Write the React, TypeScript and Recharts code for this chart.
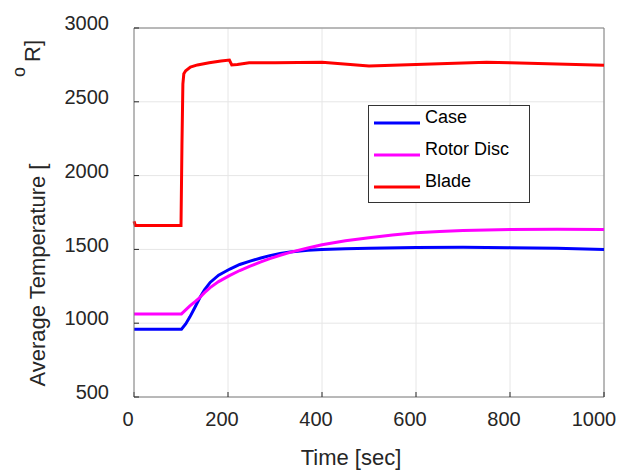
import React from "react";
import { LineChart, Line, XAxis, YAxis, CartesianGrid, Legend, ReferenceLine } from "recharts";

const caseTime = [0, 101, 110, 119, 130, 140, 150, 162, 180, 204, 225, 247, 270, 289, 311, 332, 370, 400, 450, 500, 600, 700, 800, 900, 1000];
const caseTemp = [959, 959, 995, 1043, 1110, 1172, 1226, 1276, 1325, 1367, 1398, 1421, 1442, 1458, 1472, 1482, 1494, 1500, 1505, 1508, 1513, 1514, 1512, 1507, 1500];

const discTime = [0, 101, 110, 119, 130, 140, 150, 162, 180, 204, 225, 247, 270, 289, 311, 332, 370, 400, 450, 500, 550, 600, 650, 700, 800, 900, 1000];
const discTemp = [1063, 1063, 1090, 1117, 1146, 1174, 1207, 1241, 1282, 1324, 1357, 1387, 1415, 1437, 1460, 1480, 1510, 1532, 1558, 1579, 1598, 1612, 1621, 1628, 1635, 1637, 1635];

const bladeTime = [0, 3, 100, 102, 104, 106, 110, 120, 135, 160, 185, 203, 208, 220, 245, 300, 400, 500, 600, 750, 800, 1000];
const bladeTemp = [1690, 1662, 1662, 2200, 2620, 2690, 2710, 2735, 2750, 2764, 2776, 2783, 2750, 2752, 2764, 2764, 2768, 2743, 2753, 2768, 2765, 2748];

const xTicks = [0, 200, 400, 600, 800, 1000];
const yTicks = [500, 1000, 1500, 2000, 2500, 3000];

const seriesNames = ["Case", "Rotor Disc", "Blade"];
const seriesColors = ["#0000ff", "#ff00ff", "#ff0000"];

const toRows = (t: number[], v: number[]) => t.map((x, i) => ({ t: x, v: v[i] }));

const FONT = "'Liberation Sans', Arial, Helvetica, sans-serif";
const AXIS = "#7f7f7f";
const TXT = "#262626";

const LegendBox = () => {
  return (
    <div
      style={{
        position: "absolute",
        left: 368,
        top: 105,
        width: 160,
        height: 96,
        border: "1px solid #333",
        background: "#fff",
        fontFamily: FONT,
        fontSize: 18,
        color: "#000",
        boxSizing: "content-box",
      }}
    >
      {seriesNames.map((name, i) => (
        <div key={name} style={{ position: "absolute", left: 4, top: -3 + i * 32, height: 30, display: "flex", alignItems: "center" }}>
          <svg width={48} height={30} style={{ display: "block" }}>
            <line x1={1} x2={47} y1={20} y2={20} stroke={seriesColors[i]} strokeWidth={3} />
          </svg>
          <span style={{ marginLeft: 4, lineHeight: "30px", position: "relative", top: -1 }}>{name}</span>
        </div>
      ))}
    </div>
  );
};

export default function App() {
  return (
    <div style={{ position: "absolute", left: 0, top: 0, width: 620, height: 471, background: "#fff" }}>
      <LineChart width={620} height={471} margin={{ top: 28, right: 16, bottom: 34, left: 0 }} style={{ fontFamily: FONT }}>
        <CartesianGrid stroke="#e6e6e6" strokeWidth={1} />
        <XAxis
          dataKey="t"
          type="number"
          domain={[0, 1000]}
          ticks={xTicks}
          allowDuplicatedCategory={false}
          height={40}
          stroke={AXIS}
          tickSize={-5}
          tickMargin={20}
          tickLine={{ stroke: "#262626" }}
          tick={{ fontSize: 20, fill: TXT, fontFamily: FONT, dx: -6 }}
          label={{
            content: (p: any) => {
              const vb = p.viewBox;
              return (
                <text x={vb.x + vb.width / 2 - 18} y={465} textAnchor="middle" fontSize={22} fill={TXT} fontFamily={FONT}>
                  Time [sec]
                </text>
              );
            },
          }}
        />
        <YAxis
          type="number"
          domain={[500, 3000]}
          ticks={yTicks}
          width={134}
          stroke={AXIS}
          tickSize={-5}
          tickMargin={30}
          tickLine={{ stroke: "#262626" }}
          tick={{ fontSize: 20, fill: TXT, fontFamily: FONT, dy: -5 }}
          label={{
            content: () => (
              <g fontFamily={FONT} fill={TXT}>
                <text x={45} y={275} transform="rotate(-90 45 275)" textAnchor="middle" fontSize={22}>
                  Average Temperature [
                </text>
                <text x={40} y={51} transform="rotate(-90 40 51)" textAnchor="middle" fontSize={22}>
                  R]
                </text>
                <text x={25} y={72} transform="rotate(-90 25 72)" textAnchor="middle" fontSize={18}>
                  o
                </text>
              </g>
            ),
          }}
        />
        <ReferenceLine y={3000} stroke={AXIS} strokeWidth={1} ifOverflow="visible" />
        <ReferenceLine x={1000} stroke={AXIS} strokeWidth={1} ifOverflow="visible" />
        <Line data={toRows(caseTime, caseTemp)} dataKey="v" name={seriesNames[0]} stroke={seriesColors[0]} strokeWidth={3} dot={false} type="linear" isAnimationActive={false} />
        <Line data={toRows(discTime, discTemp)} dataKey="v" name={seriesNames[1]} stroke={seriesColors[1]} strokeWidth={3} dot={false} type="linear" isAnimationActive={false} />
        <Line data={toRows(bladeTime, bladeTemp)} dataKey="v" name={seriesNames[2]} stroke={seriesColors[2]} strokeWidth={3} dot={false} type="linear" isAnimationActive={false} />
        <Legend layout="vertical" align="center" verticalAlign="middle" content={LegendBox} wrapperStyle={{ position: "absolute", left: 0, top: 0, width: 0, height: 0 }} />
      </LineChart>
    </div>
  );
}
